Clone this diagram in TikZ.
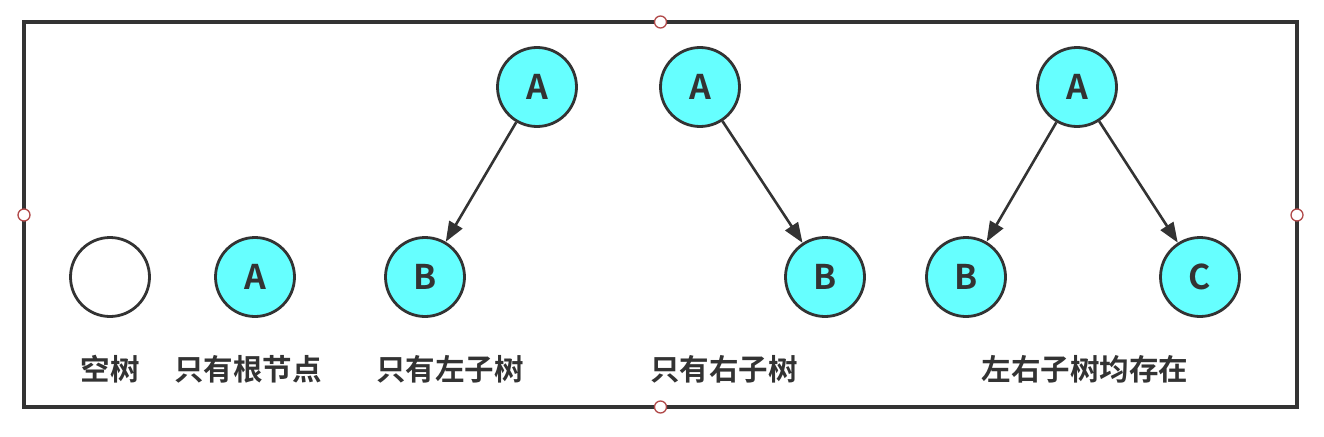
\documentclass[tikz,border=0pt]{standalone}
\usepackage{fontspec}
\setmainfont{Noto Sans CJK SC}[BoldFont={* Bold}]
\newfontfamily\cjk{Noto Sans CJK SC Bold}
\usetikzlibrary{arrows.meta}
\definecolor{ink}{HTML}{333333}
\definecolor{cyanfill}{HTML}{66FFFF}
\definecolor{handle}{HTML}{B04848}
\tikzset{
  tnode/.style={circle,draw=ink,line width=2.8pt,fill=cyanfill,minimum size=79pt,inner sep=0pt,font=\fontsize{34}{34}\cjk,text=ink},
  enode/.style={tnode,fill=white},
  lbl/.style={font=\fontsize{29.5}{29.5}\cjk,text=ink,inner sep=0pt},
  edge/.style={draw=ink,line width=2.6pt,-{Triangle[length=20pt,width=15pt]}},
  hdl/.style={circle,draw=handle,line width=1.3pt,fill=white,minimum size=12pt,inner sep=0pt},
}
\begin{document}
\begin{tikzpicture}[x=1pt,y=-1pt]
\useasboundingbox (0,0) rectangle (1324,436);
\draw[ink,line width=3.6pt] (24,22) rectangle (1297,407);
\node[hdl] (h1) at (660.5,22) {};
\node[hdl] (h2) at (660.5,407) {};
\node[hdl] (h3) at (24,215) {};
\node[hdl] (h4) at (1297,215) {};
\node[enode] (e) at (110,277) {};
\node[tnode] (r1) at (255,277) {A};
\node[tnode] (a2) at (537,87) {A};
\node[tnode] (b2) at (425,277) {B};
\node[tnode] (a3) at (700,87) {A};
\node[tnode] (b3) at (825,277) {B};
\node[tnode] (a4) at (1077,87) {A};
\node[tnode] (b4) at (966,277) {B};
\node[tnode] (c4) at (1200,277) {C};
\draw[edge] (a2) -- (b2);
\draw[edge] (a3) -- (b3);
\draw[edge] (a4) -- (b4);
\draw[edge] (a4) -- (c4);
\node[lbl] (l1) at (110,369) {空树};
\node[lbl] (l2) at (248,369) {只有根节点};
\node[lbl] (l3) at (450,369) {只有左子树};
\node[lbl] (l4) at (724,369) {只有右子树};
\node[lbl] (l5) at (1085,369) {左右子树均存在};
\end{tikzpicture}
\end{document}
